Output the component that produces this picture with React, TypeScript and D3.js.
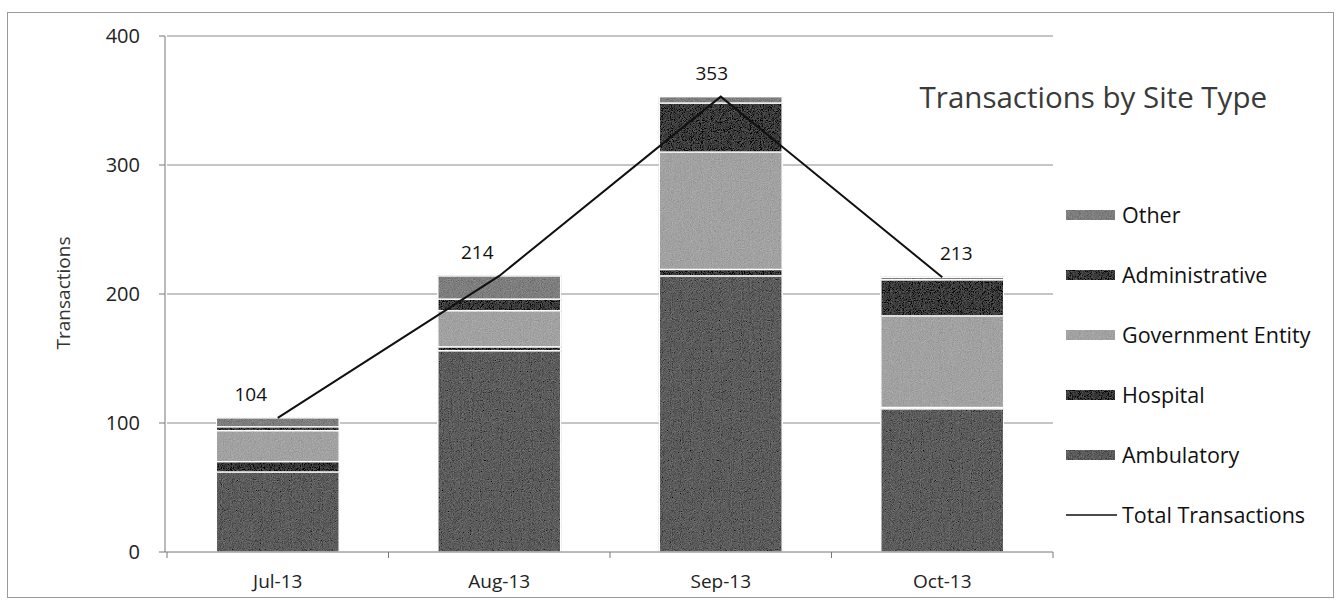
import React, { useEffect, useRef } from "react";
import * as d3 from "d3";

// chart data
const months = ["Jul-13", "Aug-13", "Sep-13", "Oct-13"];
const seriesNames = ["Ambulatory", "Hospital", "Government Entity", "Administrative", "Other"];
const ambulatory = [62, 156, 214, 111];
const hospital = [8, 3, 5, 1];
const government = [24, 28, 91, 71];
const administrative = [3, 9, 38, 28];
const other = [7, 18, 5, 2];
const totals = [104, 214, 353, 213];
const yTicks = [0, 100, 200, 300, 400];

// halftone greys of the scan
const seriesColors = ["#5c5c5c", "#383838", "#a2a2a2", "#3c3c3c", "#7e7e7e"];
// data labels were nudged by hand in the original
const labelShift = [-27, -22, -9, 14];

const W = 1341;
const H = 610;
const FONT = "'Open Sans', 'Noto Sans', sans-serif";

export default function App() {
  const svgRef = useRef<SVGSVGElement>(null);

  useEffect(() => {
    const svg = d3.select(svgRef.current);
    svg.selectAll("*").remove();

    const margin = { top: 36, right: 288, bottom: 58, left: 167 };
    const plotW = W - margin.left - margin.right;
    const plotH = H - margin.top - margin.bottom;

    // grain filter so the fills look like the photocopy
    const defs = svg.append("defs");
    const f = defs.append("filter").attr("id", "grain").attr("x", 0).attr("y", 0).attr("width", 1).attr("height", 1);
    f.append("feTurbulence")
      .attr("type", "fractalNoise")
      .attr("baseFrequency", 1.1)
      .attr("numOctaves", 1)
      .attr("seed", 3)
      .attr("result", "noise");
    // grey noise, fully opaque
    f.append("feColorMatrix")
      .attr("in", "noise")
      .attr("type", "matrix")
      .attr("values", "0.33 0.33 0.33 0 0  0.33 0.33 0.33 0 0  0.33 0.33 0.33 0 0  0 0 0 0 1")
      .attr("result", "gnoise");
    f.append("feComposite")
      .attr("in", "SourceGraphic")
      .attr("in2", "gnoise")
      .attr("operator", "arithmetic")
      .attr("k1", 0)
      .attr("k2", 1)
      .attr("k3", 0.5)
      .attr("k4", -0.25)
      .attr("result", "mix");
    f.append("feComposite").attr("in", "mix").attr("in2", "SourceGraphic").attr("operator", "in");

    // outer frame
    svg
      .append("rect")
      .attr("x", 7.5)
      .attr("y", 12.5)
      .attr("width", 1326)
      .attr("height", 585)
      .attr("fill", "none")
      .attr("stroke", "#9a9a9a")
      .attr("stroke-width", 1);

    const g = svg.append("g").attr("transform", `translate(${margin.left},${margin.top})`);

    const x = d3.scaleBand().domain(months).range([0, plotW]).paddingInner(0.445).paddingOuter(0.2225);
    const y = d3.scaleLinear().domain([0, 400]).range([plotH, 0]);

    // gridlines
    g.selectAll(".grid")
      .data(yTicks.slice(1))
      .enter()
      .append("line")
      .attr("class", "grid")
      .attr("x1", 0)
      .attr("x2", plotW)
      .attr("y1", (d: number) => y(d))
      .attr("y2", (d: number) => y(d))
      .attr("stroke", "#8c8c8c")
      .attr("stroke-width", 1);

    // stacked bars
    const rows = months.map((m, i) => ({
      month: m,
      Ambulatory: ambulatory[i],
      Hospital: hospital[i],
      "Government Entity": government[i],
      Administrative: administrative[i],
      Other: other[i],
    }));
    const stacked = d3.stack<any>().keys(seriesNames)(rows);

    g.selectAll(".layer")
      .data(stacked)
      .enter()
      .append("g")
      .attr("class", "layer")
      .attr("fill", (d: any, i: number) => seriesColors[i])
      .attr("filter", "url(#grain)")
      .selectAll("rect")
      .data((d: any) => d)
      .enter()
      .append("rect")
      .attr("x", (d: any) => x(d.data.month)!)
      .attr("width", x.bandwidth())
      .attr("y", (d: any) => y(d[1]))
      .attr("height", (d: any) => Math.max(0, y(d[0]) - y(d[1])))
      .attr("stroke", "#ffffff")
      .attr("stroke-width", 1.5);

    // y axis
    g.append("line")
      .attr("x1", -2)
      .attr("x2", -2)
      .attr("y1", 0)
      .attr("y2", plotH)
      .attr("stroke", "#777")
      .attr("stroke-width", 1);
    g.selectAll(".ytick")
      .data(yTicks)
      .enter()
      .append("line")
      .attr("class", "ytick")
      .attr("x1", -8)
      .attr("x2", -2)
      .attr("y1", (d: number) => y(d))
      .attr("y2", (d: number) => y(d))
      .attr("stroke", "#777");
    g.selectAll(".ylabel")
      .data(yTicks)
      .enter()
      .append("text")
      .attr("class", "ylabel")
      .attr("x", -27)
      .attr("y", (d: number) => y(d))
      .attr("dy", "0.35em")
      .attr("text-anchor", "end")
      .attr("font-family", FONT)
      .attr("font-size", 20)
      .attr("fill", "#222")
      .text((d: number) => d);

    // x axis
    g.append("line")
      .attr("x1", -2)
      .attr("x2", plotW)
      .attr("y1", plotH)
      .attr("y2", plotH)
      .attr("stroke", "#777");
    const bounds = [0, ...months.map((m) => x(m)! + x.bandwidth() + (x.step() - x.bandwidth()) / 2)];
    g.selectAll(".xtick")
      .data(bounds)
      .enter()
      .append("line")
      .attr("class", "xtick")
      .attr("x1", (d: number) => d)
      .attr("x2", (d: number) => d)
      .attr("y1", plotH)
      .attr("y2", plotH + 6)
      .attr("stroke", "#777");
    g.selectAll(".xlabel")
      .data(months)
      .enter()
      .append("text")
      .attr("class", "xlabel")
      .attr("x", (d: string) => x(d)! + x.bandwidth() / 2)
      .attr("y", plotH + 36)
      .attr("text-anchor", "middle")
      .attr("font-family", FONT)
      .attr("font-size", 19)
      .attr("fill", "#222")
      .text((d: string) => d);

    // total line
    const line = d3
      .line<number>()
      .x((d: number, i: number) => x(months[i])! + x.bandwidth() / 2)
      .y((d: number) => y(d));
    g.append("path")
      .datum(totals)
      .attr("d", line)
      .attr("fill", "none")
      .attr("stroke", "#111")
      .attr("stroke-width", 2);

    g.selectAll(".total-label")
      .data(totals)
      .enter()
      .append("text")
      .attr("class", "total-label")
      .attr("x", (d: number, i: number) => x(months[i])! + x.bandwidth() / 2 + labelShift[i])
      .attr("y", (d: number) => y(d) - 17)
      .attr("text-anchor", "middle")
      .attr("font-family", FONT)
      .attr("font-size", 19)
      .attr("fill", "#111")
      .text((d: number) => d);

    // axis title
    svg
      .append("text")
      .attr("transform", `translate(70, 293) rotate(-90)`)
      .attr("text-anchor", "middle")
      .attr("font-family", FONT)
      .attr("font-size", 19)
      .attr("fill", "#333")
      .text("Transactions");

    // chart title
    svg
      .append("text")
      .attr("x", 1267)
      .attr("y", 108)
      .attr("text-anchor", "end")
      .attr("font-family", FONT)
      .attr("font-size", 29.5)
      .attr("fill", "#3a3a3a")
      .text("Transactions by Site Type");

    // legend, top to bottom is reverse stack order
    const legendItems = [...seriesNames].reverse().map((name) => ({
      name,
      color: seriesColors[seriesNames.indexOf(name)],
      line: false,
    }));
    legendItems.push({ name: "Total Transactions", color: "#111", line: true });

    const legend = svg
      .selectAll(".legend")
      .data(legendItems)
      .enter()
      .append("g")
      .attr("class", "legend")
      .attr("transform", (d: any, i: number) => `translate(1066, ${215 + i * 60})`);

    legend
      .filter((d: any) => !d.line)
      .append("rect")
      .attr("x", 0)
      .attr("y", -5)
      .attr("width", 49)
      .attr("height", 10)
      .attr("fill", (d: any) => d.color)
      .attr("filter", "url(#grain)");
    legend
      .filter((d: any) => d.line)
      .append("line")
      .attr("x1", 0)
      .attr("x2", 51)
      .attr("y1", 0)
      .attr("y2", 0)
      .attr("stroke", "#111")
      .attr("stroke-width", 1.5);
    legend
      .append("text")
      .attr("x", 56)
      .attr("y", 0)
      .attr("dy", "0.35em")
      .attr("font-family", FONT)
      .attr("font-size", 21.5)
      .attr("fill", "#111")
      .text((d: any) => d.name);
  }, []);

  return (
    <svg
      ref={svgRef}
      width={W}
      height={H}
      style={{ position: "absolute", left: 0, top: 0, background: "#fff" }}
    />
  );
}
